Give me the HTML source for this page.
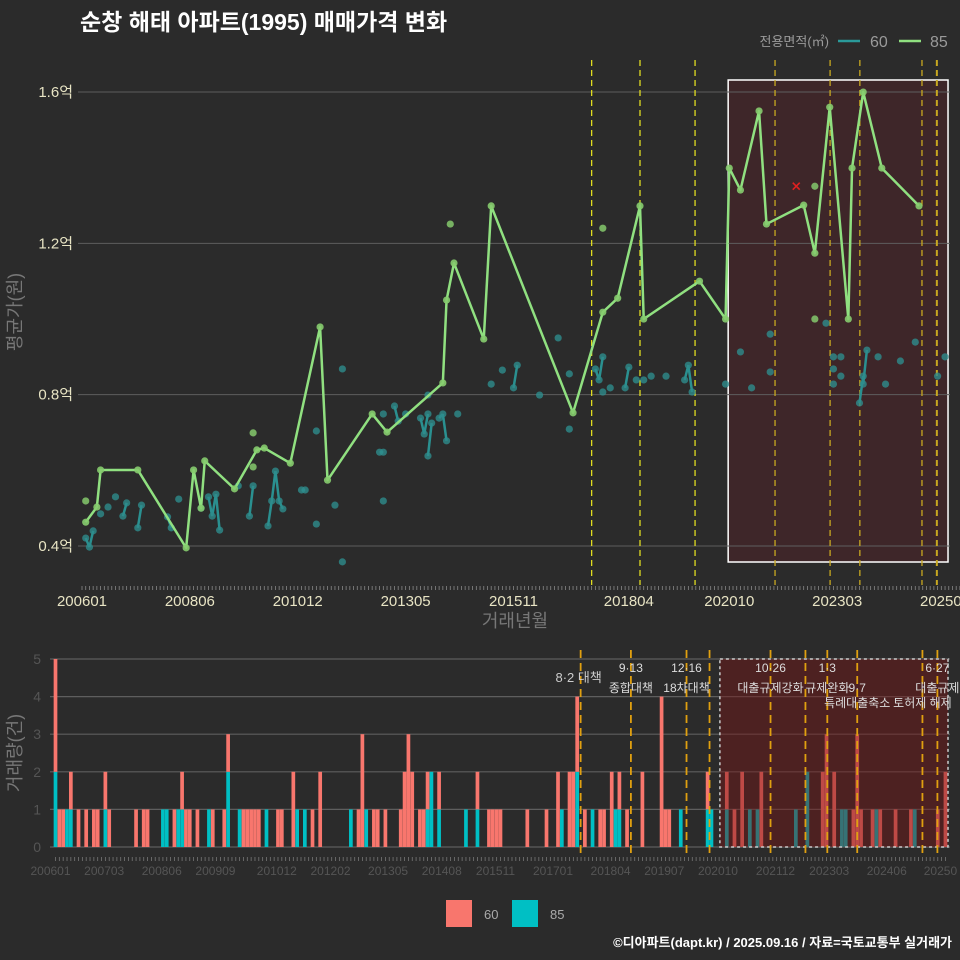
<!DOCTYPE html>
<html><head><meta charset="utf-8">
<style>
html,body{margin:0;padding:0;background:#2b2b2b;}
svg{display:block;font-family:"Liberation Sans","Noto Sans CJK KR",sans-serif;}
</style></head>
<body>
<svg id="chart" width="960" height="960" viewBox="0 0 960 960" xmlns="http://www.w3.org/2000/svg">
<rect x="0" y="0" width="960" height="960" fill="#2b2b2b"/>
<text x="80" y="30" fill="#ffffff" font-size="23" font-weight="bold">순창 해태 아파트(1995) 매매가격 변화</text>
<g>
<text x="829" y="46" fill="#9a9a9a" font-size="13" text-anchor="end">전용면적(㎡)</text>
<line x1="838" y1="41" x2="860" y2="41" stroke="#2a9a9a" stroke-width="2.5"/>
<text x="870" y="47" fill="#9a9a9a" font-size="16">60</text>
<line x1="899" y1="41" x2="921" y2="41" stroke="#90e080" stroke-width="2.5"/>
<text x="930" y="47" fill="#9a9a9a" font-size="16">85</text>
</g>
<g id="topPlot"></g>
<g id="bottomPlot"></g>
<text transform="translate(21,312) rotate(-90)" fill="#777" font-size="18" text-anchor="middle">평균가(원)</text>
<text x="515" y="627" fill="#777" font-size="18" text-anchor="middle">거래년월</text>
<text transform="translate(21,753) rotate(-90)" fill="#777" font-size="18" text-anchor="middle">거래량(건)</text>
<g>
<rect x="446" y="900" width="26" height="27" fill="#f8766d"/>
<text x="484" y="919" fill="#aaa" font-size="13">60</text>
<rect x="512" y="900" width="26" height="27" fill="#00bfc4"/>
<text x="550" y="919" fill="#aaa" font-size="13">85</text>
</g>
<text x="952" y="947" fill="#ffffff" font-size="13" font-weight="bold" text-anchor="end">©디아파트(dapt.kr) / 2025.09.16 / 자료=국토교통부 실거래가</text>
</svg>
<script>
// ---- data (month index from 2006-01, price in 억) ----
const line85Months = [1,4,5,15,28,30,32,33,41,47,49,56,64,66,78,82,97,98,100,108,110,132,140,144,150,151,166,173,174,177,182,184,194,197,201,206,207,210,215,225];
const line85Values = [0.463,0.503,0.601,0.601,0.395,0.601,0.500,0.625,0.551,0.654,0.659,0.619,0.979,0.574,0.749,0.701,0.831,1.050,1.148,0.947,1.299,0.752,1.018,1.055,1.299,1.000,1.100,1.000,1.399,1.341,1.550,1.251,1.301,1.174,1.560,1.000,1.399,1.600,1.399,1.299];
const extra85Months = [1,46,46,99,140,197,197];
const extra85Values = [0.519,0.699,0.609,1.251,1.240,1.351,1.000];
const outlierMonths = [192];
const outlierValues = [1.351];
const pts60Months = [1,2,3,5,7,9,11,12,15,16,23,24,26,32,34,35,36,37,42,45,46,50,51,52,53,54,59,60,63,63,68,70,70,80,81,81,81,84,85,87,91,92,93,93,94,93,96,97,98,101,110,113,116,117,123,128,131,131,138,139,140,140,142,146,147,149,151,153,157,162,163,164,173,177,180,185,185,200,202,204,202,202,204,209,210,210,211,214,216,220,224,230,232];
const pts60Values = [0.421,0.397,0.440,0.485,0.503,0.530,0.479,0.514,0.448,0.508,0.477,0.448,0.524,0.500,0.530,0.479,0.537,0.442,0.559,0.479,0.559,0.453,0.519,0.598,0.519,0.498,0.548,0.548,0.704,0.458,0.508,0.868,0.358,0.648,0.648,0.519,0.749,0.770,0.730,0.749,0.738,0.696,0.749,0.638,0.725,0.799,0.738,0.749,0.678,0.749,0.828,0.865,0.818,0.878,0.799,0.950,0.855,0.709,0.868,0.839,0.900,0.807,0.818,0.818,0.873,0.839,0.839,0.849,0.849,0.839,0.878,0.807,0.828,0.913,0.818,0.960,0.860,0.989,0.900,0.900,0.868,0.828,0.849,0.778,0.849,0.828,0.918,0.900,0.828,0.889,0.939,0.849,0.900];
const priceTicks = [0.4,0.8,1.2,1.6];
const priceTickLabels = ["0.4억","0.8억","1.2억","1.6억"];
const topXLabels = ["200601","200806","201012","201305","201511","201804","202010","202303","202508"];
const topXLabelMonths = [0,29,58,87,116,147,174,203,232];
const policyMonthsTop = [137,150,164.8,186.3,201.1,209.1,225.8,229.8];
const policyMonthsBottom = [136.9,150,164.5,170.5,186.4,195.5,201.2,209,226,229.9];
const shadeStartMonth = 173.7;
const shadeEndMonth = 232.8;
// volume
const volMonths = [0,1,2,3,4,6,8,10,11,13,14,21,23,24,28,29,31,32,33,34,35,37,40,41,44,45,48,49,50,51,52,53,55,58,59,62,63,65,67,69,77,79,80,81,83,84,86,90,91,92,93,95,96,97,98,100,107,110,113,114,115,116,123,128,131,132,134,135,136,138,140,142,143,145,146,147,149,153,158,159,160,163,170,171,175,177,179,181,183,184,193,196,200,201,203,205,206,208,209,210,213,214,215,219,223,224,230,232];
const vol85 = [2,0,0,1,1,0,0,0,0,1,0,0,0,0,1,1,0,1,1,0,0,0,1,0,0,2,1,0,0,0,0,0,1,0,0,0,1,1,0,0,1,0,0,1,0,0,0,0,0,0,0,0,0,1,2,1,1,1,0,0,0,0,0,0,0,1,0,0,2,0,1,0,0,0,1,1,0,0,0,0,0,1,1,1,1,0,0,1,1,0,1,2,0,0,0,1,1,0,0,0,0,1,0,0,0,1,0,0];
const vol60 = [3,1,1,0,1,1,1,1,1,1,1,1,1,1,0,0,1,0,1,1,1,1,0,1,1,1,0,1,1,1,1,1,0,1,1,2,0,0,1,2,0,1,3,0,1,1,1,1,2,3,2,1,1,1,0,1,0,1,1,1,1,1,1,1,2,0,2,2,2,1,0,1,1,2,0,1,1,2,4,1,1,0,1,0,1,1,2,0,0,2,0,0,2,3,2,0,0,1,3,1,1,0,1,1,1,0,1,2];
const volTicks = [0,1,2,3,4,5];
const bottomXLabels = ["200601","200703","200806","200909","201012","201202","201305","201408","201511","201701","201804","201907","202010","202112","202303","202406","20250"];
const bottomXLabelPos = [0,14,29,43,59,73,88,102,116,131,146,160,174,189,203,218,232];
const annTop = ["9·13","12·16","10·26","1·3","6·27"];
const annTopMonths = [150,164.5,186.4,201.2,229.9];
const annMid = ["종합대책","18차대책","대출규제강화","규제완화","9·7","대출규제"];
const annMidMonths = [150,164.5,186.4,201.2,209,229.9];
const annLow = ["특례대출축소","토허제 해제"];
const annLowMonths = [209,226];

const NS="http://www.w3.org/2000/svg";
function mk(tag,parent,attrs){const e=document.createElementNS(NS,tag);for(const k in attrs)e.setAttribute(k,attrs[k]);parent.appendChild(e);return e;}
const tx=m=>82+m*3.72;
const ty=v=>546-(v-0.4)*378.3;
const bx=m=>55.5+m*3.836;
const by=c=>847-c*37.6;

const topG=document.getElementById('topPlot');
const botG=document.getElementById('bottomPlot');

const sh=mk('rect',topG,{x:tx(shadeStartMonth),y:80,width:tx(shadeEndMonth)-tx(shadeStartMonth),height:482,fill:'#3e2629',stroke:'#ffffff','stroke-width':1.5});


priceTicks.forEach((v,i)=>{
  const g=mk('line',topG,{x1:78,x2:950,y1:ty(v),y2:ty(v),stroke:'#5e5e5e','stroke-width':1});
  
  
  const t=mk('text',topG,{x:73,y:ty(v)+5,fill:'#e8e4c4','font-size':15,'text-anchor':'end'});
  
  
  t.textContent=priceTickLabels[i];
});
policyMonthsTop.forEach((m,i)=>{
  const l=mk('line',topG,{x1:tx(m),x2:tx(m),y1:60,y2:585,stroke:tx(m)>728?'#c8a820':'#e0dc20','stroke-width':i==7?2:1.3,'stroke-dasharray':'6 4'});
  
  
});
for(let m=0;m<=236;m++){
  const k=mk('line',topG,{x1:tx(m),x2:tx(m),y1:586,y2:590,stroke:'#888','stroke-width':0.8});
  
  
}
topXLabels.forEach((s,i)=>{
  const t=mk('text',topG,{x:tx(topXLabelMonths[i]),y:606,fill:'#e8e4c4','font-size':15,'text-anchor':'middle'});
  
  
  t.textContent=s;
});
for(let i=1;i<pts60Months.length;i++){
  const d=pts60Months[i]-pts60Months[i-1];
  if(d===1){
    const l=mk('line',topG,{x1:tx(pts60Months[i-1]),y1:ty(pts60Values[i-1]),x2:tx(pts60Months[i]),y2:ty(pts60Values[i]),stroke:'#2a9090','stroke-width':2.5});
    
    
  }
}
pts60Months.forEach((m,i)=>{
  const c=mk('circle',topG,{cx:tx(m),cy:ty(pts60Values[i]),r:3.6,fill:'#2e8c8c','fill-opacity':0.8});
  
  
});
const pl=mk('polyline',topG,{points:line85Months.map((m,i)=>tx(m)+','+ty(line85Values[i])).join(' '),fill:'none',stroke:'#90e080','stroke-width':2.5,'stroke-linejoin':'round'});


line85Months.forEach((m,i)=>{
  const c=mk('circle',topG,{cx:tx(m),cy:ty(line85Values[i]),r:3.6,fill:'#86cc6e','fill-opacity':0.9});
  
  
});
extra85Months.forEach((m,i)=>{
  const c=mk('circle',topG,{cx:tx(m),cy:ty(extra85Values[i]),r:3.6,fill:'#80c068','fill-opacity':0.9});
  
  
});
outlierMonths.forEach((m,i)=>{
  const x=tx(m),y=ty(outlierValues[i]);
  const o=mk('path',topG,{d:`M${x-3.5},${y-3.5}L${x+3.5},${y+3.5}M${x+3.5},${y-3.5}L${x-3.5},${y+3.5}`,stroke:'#e02020','stroke-width':1.6});
  
  
});

volTicks.forEach(v=>{
  const g=mk('line',botG,{x1:50,x2:950,y1:by(v),y2:by(v),stroke:'#5e5e5e','stroke-width':1.2});
  
  
  const t=mk('text',botG,{x:41,y:by(v)+5,fill:'#555','font-size':14,'text-anchor':'end'});
  
  
  t.textContent=v;
});
volMonths.forEach((m,i)=>{
  const x=bx(m)-1.85;
  const a=vol85[i]||0, b=vol60[i]||0;
  if(a>0){
    const r=mk('rect',botG,{x:x,y:by(a),width:3.7,height:by(0)-by(a),fill:'#00bfc4'});
    
    
  }
  if(b>0){
    const r=mk('rect',botG,{x:x,y:by(a+b),width:3.7,height:by(a)-by(a+b),fill:'#f8766d'});
    
    
  }
});
const bsh=mk('rect',botG,{x:bx(173.2),y:by(5),width:948-bx(173.2),height:by(0)-by(5),fill:'rgba(120,22,22,0.45)',stroke:'#cccccc','stroke-width':1.5,'stroke-dasharray':'3 3'});


policyMonthsBottom.forEach(m=>{
  const l=mk('line',botG,{x1:bx(m),x2:bx(m),y1:650,y2:858,stroke:'#e0a010','stroke-width':1.8,'stroke-dasharray':'8 5'});
  
  
});
for(let m=0;m<=232;m++){
  const k=mk('line',botG,{x1:bx(m),x2:bx(m),y1:857,y2:861,stroke:'#777','stroke-width':0.8});
  
  
}
bottomXLabels.forEach((s,i)=>{
  const t=mk('text',botG,{x:bx(bottomXLabelPos[i])-5,y:875,fill:'#555','font-size':12,'text-anchor':'middle'});
  
  
  t.textContent=s;
});
const a82=mk('text',botG,{x:bx(136.9)-2,y:682,fill:'#ccc','font-size':13,'text-anchor':'middle'});


a82.textContent='8·2 대책';
annTop.forEach((s,i)=>{
  const t=mk('text',botG,{x:bx(annTopMonths[i]),y:672,fill:'#ddd','font-size':12,'text-anchor':'middle'});
  
  
  t.textContent=s;
});
annMid.forEach((s,i)=>{
  const t=mk('text',botG,{x:bx(annMidMonths[i]),y:692,fill:'#ddd','font-size':12,'text-anchor':'middle'});
  
  
  t.textContent=s;
});
annLow.forEach((s,i)=>{
  const t=mk('text',botG,{x:bx(annLowMonths[i]),y:707,fill:'#ddd','font-size':12,'text-anchor':'middle'});
  
  
  t.textContent=s;
});
</script>
</body></html>
